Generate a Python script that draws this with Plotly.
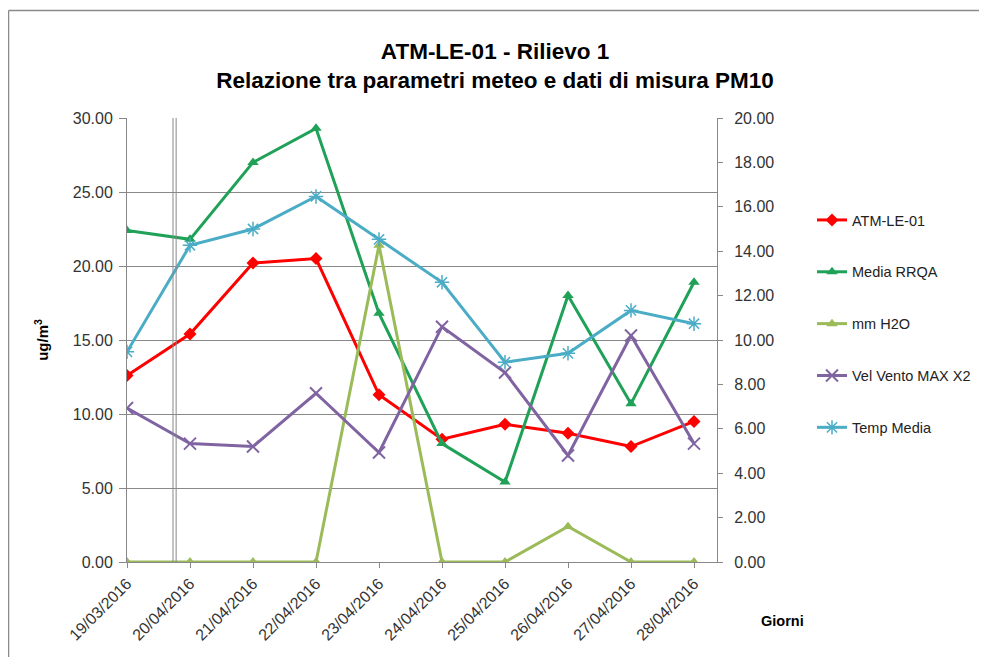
import plotly.graph_objects as go

dates = ["19/03/2016", "20/04/2016", "21/04/2016", "22/04/2016", "23/04/2016",
         "24/04/2016", "25/04/2016", "26/04/2016", "27/04/2016", "28/04/2016"]
atm_le_01 = [12.6, 15.4, 20.2, 20.5, 11.3, 8.3, 9.3, 8.7, 7.8, 9.5]
media_rrqa = [22.4, 21.8, 27.0, 29.3, 16.8, 8.0, 5.4, 18.0, 10.7, 18.9]
mm_h2o = [0.0, 0.0, 0.0, 0.0, 21.4, 0.0, 0.0, 2.4, 0.0, 0.0]
vel_vento = [10.4, 8.0, 7.8, 11.4, 7.4, 15.9, 12.8, 7.2, 15.3, 8.0]
temp_media = [14.2, 21.4, 22.5, 24.7, 21.8, 18.9, 13.5, 14.1, 17.0, 16.1]

left_ticks = [0, 5, 10, 15, 20, 25, 30]
right_ticks = [0, 2, 4, 6, 8, 10, 12, 14, 16, 18, 20]

FONT = "Liberation Sans, Arial, sans-serif"
xs = list(range(len(dates)))

# figure is drawn 8px inside the window (page margin), so figure coords = window - 8
L, R, T, B = 119, 709, 110, 554
W, H = 987, 657
PW, PH = R - L, B - T

series = [
    ("ATM-LE-01", atm_le_01, "#FF0000", "diamond", 10, 0),
    ("Media RRQA", media_rrqa, "#1FA157", "triangle-up", 10, 0),
    ("mm H2O", mm_h2o, "#9BBB59", "triangle-up", 10, 0),
    ("Vel Vento MAX X2", vel_vento, "#8064A2", "x-thin-open", 12, 2),
    ("Temp Media", temp_media, "#4BACC6", "asterisk-open", 12, 1.5),
]

fig = go.Figure()
for i, (name, vals, col, sym, size, lw) in enumerate(series):
    mk = dict(symbol=sym, size=size, color=col)
    if lw:
        mk["line"] = dict(color=col, width=lw)
    fig.add_trace(go.Scatter(
        x=xs, y=vals, name=name, mode="lines+markers",
        line=dict(color=col, width=3), marker=mk,
        legendgroup=f"g{i}",
    ))
# invisible trace to activate the secondary axis
fig.add_trace(go.Scatter(x=[xs[0]], y=[0], yaxis="y2", showlegend=False,
                         mode="markers", marker=dict(opacity=0), hoverinfo="skip"))

def px(xw):
    return (xw - L) / PW

def py(yw):
    return (B - yw) / PH

fig.update_layout(
    width=W, height=H,
    margin=dict(l=L, r=W - R, t=T, b=H - B, autoexpand=False),
    paper_bgcolor="white", plot_bgcolor="white",
    font=dict(family=FONT, size=15, color="#333333"),
    title=dict(
        text="ATM-LE-01 - Rilievo 1<br>Relazione tra parametri meteo e dati di misura PM10",
        x=487 / W, xref="container", xanchor="center",
        y=1 - 51 / H, yref="container", yanchor="top",
        font=dict(family=FONT, size=22.5, color="#000000", weight="bold"),
    ),
    xaxis=dict(
        tickmode="array", tickvals=xs, ticktext=dates, tickangle=-45,
        range=[0, 9.365], showgrid=False, zeroline=False,
        showline=True, linecolor="#888888", linewidth=1,
        ticks="outside", ticklen=5, tickcolor="#888888",
        tickfont=dict(size=16, color="#333333"),
    ),
    yaxis=dict(
        range=[0, 30], tickvals=left_ticks, tickformat=".2f",
        showgrid=True, gridcolor="#888888", gridwidth=1, zeroline=False,
        showline=True, linecolor="#888888", linewidth=1,
        ticks="outside", ticklen=7, tickcolor="#888888", ticklabelstandoff=3,
        tickfont=dict(size=16, color="#333333"),
        title=dict(text="ug/m<sup>3</sup>", font=dict(size=15, color="#000000", weight="bold"), standoff=20),
    ),
    yaxis2=dict(
        range=[0, 20], tickvals=right_ticks, tickformat=".2f",
        overlaying="y", side="right", showgrid=False, zeroline=False,
        showline=True, linecolor="#888888", linewidth=1,
        ticks="outside", ticklen=5, tickcolor="#888888", ticklabelstandoff=8,
        tickfont=dict(size=16, color="#333333"),
    ),
    legend=dict(
        x=px(804), y=py(196), xanchor="left", yanchor="top",
        font=dict(size=14.5, color="#222222"), tracegroupgap=30,
        bgcolor="rgba(0,0,0,0)",
    ),
    showlegend=True,
)

fig.add_annotation(text="<b>Giorni</b>", xref="paper", yref="paper",
                   x=px(774), y=py(613), xanchor="center", yanchor="middle",
                   showarrow=False, font=dict(size=14.5, color="#000000"))

# double vertical line near the first category
for xv in (0.73, 0.78):
    fig.add_shape(type="line", xref="x", yref="paper", x0=xv, x1=xv, y0=0, y1=1,
                  line=dict(color="#888888", width=1))
# outer chart frame (top and left edges)
fig.add_shape(type="line", xref="paper", yref="paper",
              x0=px(0.5), x1=px(W + 5), y0=py(2.5), y1=py(2.5),
              line=dict(color="#8a8a8a", width=1.5))
fig.add_shape(type="line", xref="paper", yref="paper",
              x0=px(0.5), x1=px(0.5), y0=py(2.5), y1=py(H + 5),
              line=dict(color="#8a8a8a", width=1.5))

fig.write_html("out.html")
